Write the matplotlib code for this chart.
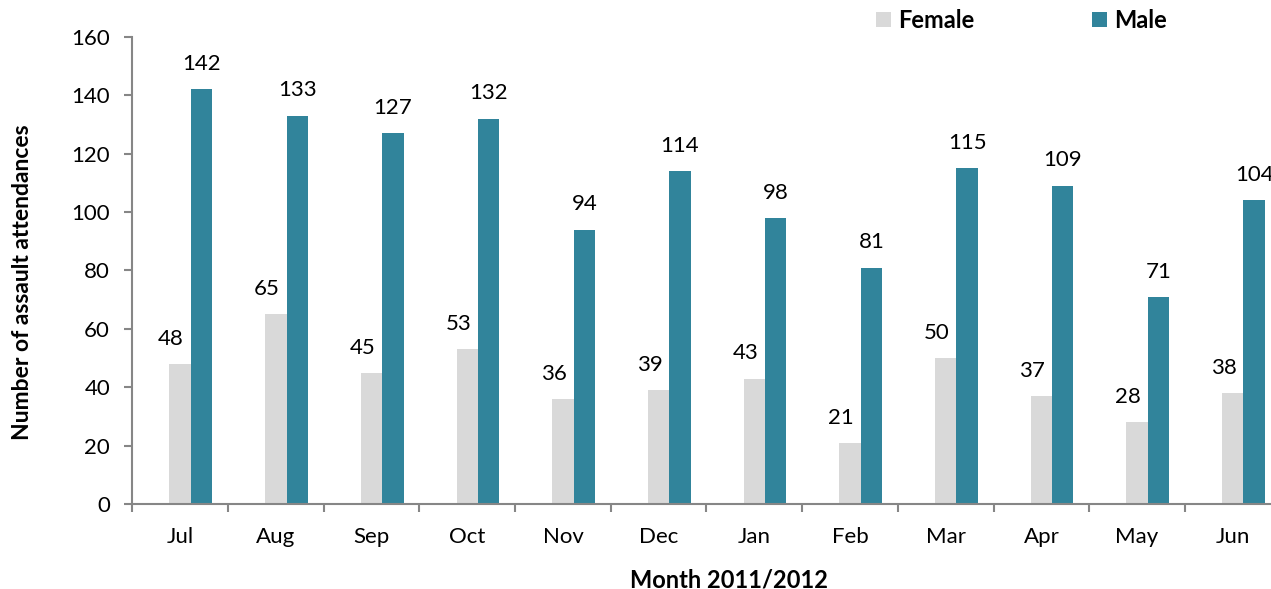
import matplotlib.pyplot as plt
import numpy as np

plt.rcParams['font.family'] = ['Lato', 'DejaVu Sans']

# Data
months = ['Jul', 'Aug', 'Sep', 'Oct', 'Nov', 'Dec', 'Jan', 'Feb', 'Mar', 'Apr', 'May', 'Jun']
female = [48, 65, 45, 53, 36, 39, 43, 21, 50, 37, 28, 38]
male = [142, 133, 127, 132, 94, 114, 98, 81, 115, 109, 71, 104]

female_col = '#D9D9D9'
male_col = '#31849B'
axis_col = '#868686'

fig = plt.figure(figsize=(12.71, 5.89), dpi=100)
# axes runs slightly past the right edge, as in the original
ax = fig.add_axes([0.1041, 0.1438, 0.9035, 0.7939])

x = np.arange(len(months))
w = 0.223
b1 = ax.bar(x, female, w, color=female_col, label='Female')
b2 = ax.bar(x + w, male, w, color=male_col, label='Male')

# value labels
for xi, v in zip(x, female):
    ax.annotate(str(v), (xi, v), xytext=(-6.5, 11), textcoords='offset points',
                ha='center', va='bottom', fontsize=16)
for xi, v in zip(x, male):
    ax.annotate(str(v), (xi + w, v), xytext=(0, 11), textcoords='offset points',
                ha='center', va='bottom', fontsize=16)

ax.set_xlim(-0.5, 11.5)
ax.set_ylim(0, 160)
ax.set_yticks(range(0, 161, 20))
ax.set_xticks(x)
ax.set_xticklabels(months)
ax.set_xticks(np.arange(-0.5, 12, 1), minor=True)
ax.tick_params(axis='x', which='major', length=0, pad=16, labelsize=16)
ax.tick_params(axis='x', which='minor', length=6, width=1.5, color=axis_col)
ax.tick_params(axis='y', length=6, width=1.5, color=axis_col, pad=10, labelsize=16)

for s in ['top', 'right']:
    ax.spines[s].set_visible(False)
for s in ['left', 'bottom']:
    ax.spines[s].set_color(axis_col)
    ax.spines[s].set_linewidth(1.5)

# axis titles
fig.text(729 / 1271, 1 - 580 / 589, 'Month 2011/2012', fontsize=17, fontweight='bold',
         ha='center', va='center')
fig.text(23 / 1271, 1 - 282 / 589, 'Number of assault attendances', fontsize=16.5,
         fontweight='bold', ha='center', va='center', rotation=90)

fig.legend(handles=[b1, b2], loc='upper left', bbox_to_anchor=(876 / 1271, 0.985), ncol=2,
           frameon=False, handlelength=0.63, handleheight=0.63, handletextpad=0.3,
           columnspacing=5.0, borderpad=0, borderaxespad=0,
           prop={'weight': 'bold', 'size': 17})

plt.savefig('out.png', dpi=100)
